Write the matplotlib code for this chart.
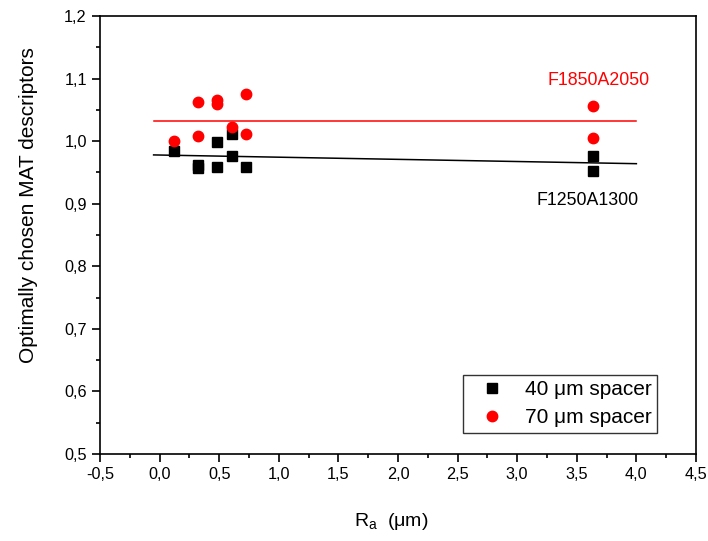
import matplotlib
matplotlib.use("Agg")
import matplotlib.pyplot as plt
import matplotlib.ticker as ticker
import numpy as np

plt.rcParams['font.family'] = ['Liberation Sans', 'DejaVu Sans']
plt.rcParams['mathtext.fontset'] = 'custom'
plt.rcParams['mathtext.rm'] = 'Liberation Sans'

# 40 um spacer (F1250A1300)
ra_40 = [0.12, 0.32, 0.32, 0.485, 0.485, 0.605, 0.605, 0.725, 3.64, 3.64]
mat_40 = [0.985, 0.957, 0.962, 0.999, 0.959, 1.011, 0.977, 0.959, 0.976, 0.952]
# 70 um spacer (F1850A2050)
ra_70 = [0.12, 0.32, 0.32, 0.485, 0.485, 0.605, 0.725, 0.725, 3.64, 3.64]
mat_70 = [1.001, 1.062, 1.008, 1.060, 1.065, 1.023, 1.075, 1.012, 1.056, 1.005]

# linear fits as drawn
fit_x = [-0.05, 4.0]
fit_40 = [0.978, 0.964]
fit_70 = [1.032, 1.032]

fig = plt.figure(figsize=(7.08, 5.41), dpi=100)
ax = fig.add_axes([0.1412, 0.1608, 0.8418, 0.8096])

ax.plot(fit_x, fit_70, color='red', linewidth=1.1, zorder=2)
ax.plot(fit_x, fit_40, color='black', linewidth=1.1, zorder=2)
ax.plot(ra_40, mat_40, linestyle='none', marker='s', color='black', markersize=6.5, label='40 \u03bcm spacer', zorder=3)
ax.plot(ra_70, mat_70, linestyle='none', marker='o', color='red', markersize=7.5, label='70 \u03bcm spacer', zorder=3)

ax.text(3.686, 1.097, 'F1850A2050', color='red', fontsize=12.8, ha='center', va='center')
ax.text(3.59, 0.905, 'F1250A1300', color='black', fontsize=12.8, ha='center', va='center')

ax.set_xlim(-0.5, 4.5)
ax.set_ylim(0.5, 1.2)
ax.xaxis.set_major_locator(ticker.MultipleLocator(0.5))
ax.xaxis.set_minor_locator(ticker.MultipleLocator(0.25))
ax.yaxis.set_major_locator(ticker.MultipleLocator(0.1))
ax.yaxis.set_minor_locator(ticker.MultipleLocator(0.05))
fmt = ticker.FuncFormatter(lambda v, p: f'{v:.1f}'.replace('.', ','))
ax.xaxis.set_major_formatter(fmt)
ax.yaxis.set_major_formatter(fmt)
ax.tick_params(which='major', direction='out', length=6, width=1.2, labelsize=11.7, top=False, right=False)
ax.tick_params(which='minor', direction='out', length=3, width=1.2, top=False, right=False)
for s in ax.spines.values():
    s.set_linewidth(1.2)

fig.text(391/708, 1-521/541, '$\\mathregular{R_a}$  (\u03bcm)', fontsize=14, ha='center', va='center')
fig.text(29/708, 1-205/541, 'Optimally chosen MAT descriptors', fontsize=15, rotation=90, ha='center', va='center')

leg = ax.legend(loc='lower right', bbox_to_anchor=(0.935, 0.048), borderaxespad=0,
                fancybox=False, edgecolor='black', fontsize=15, handlelength=2.3, handletextpad=0.4,
                borderpad=0.28, labelspacing=0.42)
leg.get_frame().set_linewidth(1.0)

fig.savefig('out.png', dpi=100)
